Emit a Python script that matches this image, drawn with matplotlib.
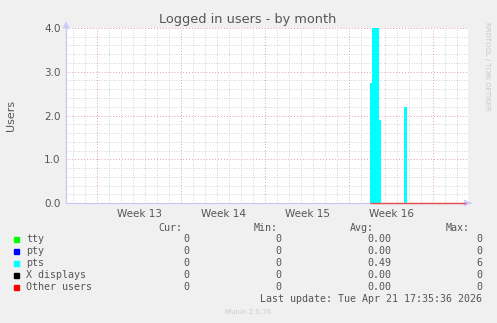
import matplotlib
matplotlib.use("Agg")
import matplotlib.pyplot as plt
import numpy as np

# ---- data ----
week_labels = ["Week 13", "Week 14", "Week 15", "Week 16"]
week_starts = [2.6, 9.6, 16.6, 23.6, 30.6]      # days from left edge
x_span = 33.5                                    # days shown
data_start = 25.33
data_end = 33.33
pts_t = [25.33, 25.5, 26.08, 26.25, 28.17, 28.38, 33.33]
pts_v = [2.75, 6.0, 1.9, 0.0, 2.2, 0.0, 0.0]

series_names = ["tty", "pty", "pts", "X displays", "Other users"]
series_colors = ["#00FF00", "#0000FF", "#00FFFF", "#000000", "#FF0000"]
cur_vals = ["0", "0", "0", "0", "0"]
min_vals = ["0", "0", "0", "0", "0"]
avg_vals = ["0.00", "0.00", "0.49", "0.00", "0.00"]
max_vals = ["0", "0", "6", "0", "0"]
y_ticks = [0.0, 1.0, 2.0, 3.0, 4.0]

W, H = 497, 323
fig = plt.figure(figsize=(W / 100, H / 100), dpi=100)
fig.patch.set_facecolor("#F0F0F0")

L, R, T, B = 66, 468, 28, 203
ax = fig.add_axes([L / W, 1 - B / H, (R - L) / W, (B - T) / H])
ax.set_facecolor("white")
ax.set_xlim(0, x_span)
ax.set_ylim(0, 4.0)

# grid
minor_col = "#C4C4C4"
major_col = "#E0A0A0"
first_day = week_starts[0] % 1.0
days = np.arange(first_day, x_span, 1.0)
for d in days:
    if not any(abs(d - w) < 1e-6 for w in week_starts):
        ax.axvline(d, color=minor_col, lw=0.6, ls=(0, (1, 2)), zorder=0)
for yv in np.arange(0.2, 4.0, 0.2):
    if abs(yv - round(yv)) > 1e-6:
        ax.axhline(yv, color=minor_col, lw=0.6, ls=(0, (1, 2)), zorder=0)
for w in week_starts:
    ax.axvline(w, color=major_col, lw=0.7, ls=(0, (1, 2)), zorder=0.5)
for yv in y_ticks[1:]:
    ax.axhline(yv, color=major_col, lw=0.7, ls=(0, (1, 2)), zorder=0.5)

# data
ax.fill_between(pts_t, 0, pts_v, step="post", color="#00FFFF", lw=0, zorder=2)

for s in ax.spines.values():
    s.set_visible(False)
axis_col = "#C8C8F4"
ax.plot([0, 0], [0, 4.05], color=axis_col, lw=0.9, clip_on=False, zorder=4)
ax.plot([0, x_span + 0.1], [0, 0], color=axis_col, lw=0.9, clip_on=False, zorder=1)
ax.plot([data_start, data_end], [0, 0], color="#E85050", lw=1.0, zorder=5,
        clip_on=False, solid_capstyle="butt")
# arrows
ax.annotate("", xy=(0, 4.22), xytext=(0, 4.0),
            arrowprops=dict(arrowstyle="-|>,head_width=0.2,head_length=0.4",
                            color="#CCCCFF", lw=0.8), annotation_clip=False)
ax.annotate("", xy=(x_span + 0.5, 0), xytext=(x_span, 0),
            arrowprops=dict(arrowstyle="-|>,head_width=0.2,head_length=0.4",
                            color="#CCCCFF", lw=0.8), annotation_clip=False)

txt = "#555555"
ax.set_yticks(y_ticks)
ax.set_yticklabels([f"{v:.1f}" for v in y_ticks], fontsize=7.5, color=txt)
ax.set_xticks([w + 3.5 for w in week_starts[:4]])
ax.set_xticklabels(week_labels, fontsize=7.5, color=txt)
ax.tick_params(axis="both", length=0, pad=4)

fig.text(11 / W, 1 - 115 / H, "Users", rotation=90, ha="center", va="center",
         fontsize=8, color=txt)
fig.text(248 / W, 1 - 19 / H, "Logged in users - by month", ha="center",
         va="center", fontsize=9.3, color=txt)
fig.text(487 / W, 1 - 66 / H, "RRDTOOL / TOBI OETIKER", rotation=270,
         ha="center", va="center", fontsize=5, color="#C8C8C8")

mono = "DejaVu Sans Mono"
fs = 7.2
hy = 228
fig.text(182 / W, 1 - hy / H, "Cur:", ha="right", va="center", family=mono, fontsize=fs, color=txt)
fig.text(278 / W, 1 - hy / H, "Min:", ha="right", va="center", family=mono, fontsize=fs, color=txt)
fig.text(374 / W, 1 - hy / H, "Avg:", ha="right", va="center", family=mono, fontsize=fs, color=txt)
fig.text(470 / W, 1 - hy / H, "Max:", ha="right", va="center", family=mono, fontsize=fs, color=txt)
rows_y = [239, 251, 263, 275, 287]
for i, name in enumerate(series_names):
    yy = 1 - rows_y[i] / H
    fig.patches.append(plt.Rectangle((14 / W, 1 - (rows_y[i] + 2.5) / H), 5 / W, 5 / H,
                                     transform=fig.transFigure, color=series_colors[i],
                                     figure=fig))
    fig.text(26 / W, yy, name, ha="left", va="center", family=mono, fontsize=fs, color=txt)
    fig.text(189.5 / W, yy, cur_vals[i], ha="right", va="center", family=mono, fontsize=fs, color=txt)
    fig.text(281.5 / W, yy, min_vals[i], ha="right", va="center", family=mono, fontsize=fs, color=txt)
    fig.text(391.5 / W, yy, avg_vals[i], ha="right", va="center", family=mono, fontsize=fs, color=txt)
    fig.text(482.5 / W, yy, max_vals[i], ha="right", va="center", family=mono, fontsize=fs, color=txt)
fig.text(482.5 / W, 1 - 299 / H, "Last update: Tue Apr 21 17:35:36 2026", ha="right",
         va="center", family=mono, fontsize=fs, color=txt)
fig.text(248 / W, 1 - 312 / H, "Munin 2.0.76", ha="center", va="center",
         fontsize=5, color="#CCCCCC")

fig.savefig("out.png", dpi=100, facecolor=fig.get_facecolor())
